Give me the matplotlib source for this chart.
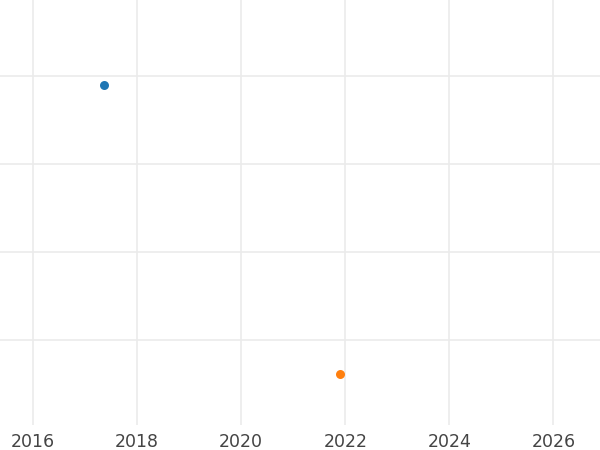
import matplotlib.pyplot as plt
import matplotlib.dates as mdates
from datetime import datetime

# data
dates = [datetime(2017, 5, 16), datetime(2021, 11, 28)]
values = [3.9, 0.61]
colors = ['#1f77b4', '#ff7f0e']

year_ticks = [datetime(y, 1, 1) for y in range(2016, 2027, 2)]
year_labels = [str(y) for y in range(2016, 2027, 2)]

fig = plt.figure(figsize=(6, 4.5), dpi=100)
ax = fig.add_axes([0, 1 - 425 / 450, 1, 425 / 450])

for d, v, c in zip(dates, values, colors):
    ax.scatter([d], [v], s=42, color=c, zorder=3, linewidths=0)

ax.set_xlim(datetime(2015, 5, 14), datetime(2026, 11, 24))
ax.set_ylim(0.034, 4.864)
ax.set_xticks(year_ticks)
ax.set_xticklabels(year_labels)
ax.set_yticks([1, 2, 3, 4])
ax.set_yticklabels([])

ax.grid(True, color='#ebebeb', linewidth=1.2)
ax.set_axisbelow(True)
ax.tick_params(axis='both', length=0)
ax.tick_params(axis='x', pad=6, labelsize=12.5, labelcolor='#444444')
for s in ax.spines.values():
    s.set_visible(False)

plt.savefig('out.png', dpi=100)
